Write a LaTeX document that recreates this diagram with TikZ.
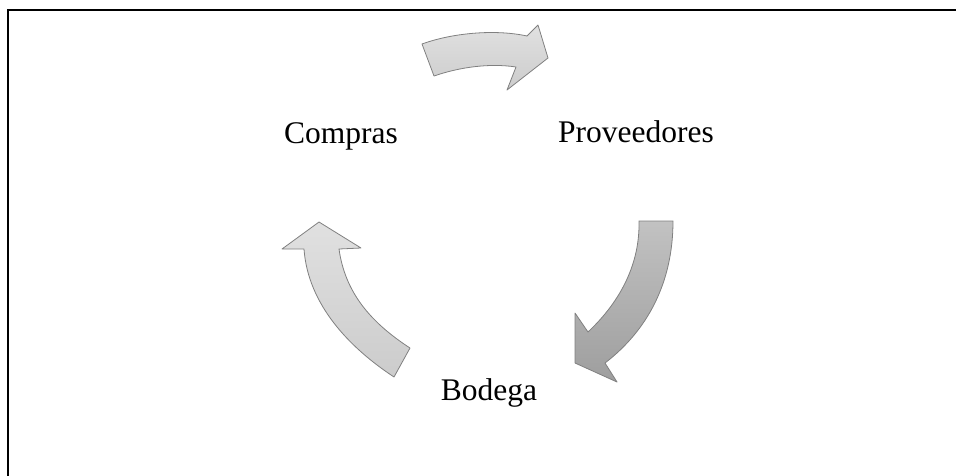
\documentclass[tikz,border=0pt]{standalone}
\usepackage{fontspec}
\setmainfont{Liberation Serif}
\begin{document}
\begin{tikzpicture}[x=1pt,y=-1pt,
  label/.style={anchor=base,inner sep=0pt,font=\fontsize{31.5}{36}\selectfont},
  cyclearrow/.style={draw=black!50,line width=0.8pt,line join=round},
  lightarrow/.style={cyclearrow,top color=black!12,bottom color=black!20},
  darkarrow/.style={cyclearrow,top color=black!24,bottom color=black!38}]
\useasboundingbox (0,0) rectangle (956,475);

% frame, running off the right and bottom edges
\begin{scope}
  \clip (0,0) rectangle (956,475);
  \draw[line width=2pt] (7.5,490) -- (7.5,10) -- (970,10);
\end{scope}

% stage labels
\node[label] (compras) at (341,143) {Compras};
\node[label] (prov) at (636,142) {Proveedores};
\node[label] (bodega) at (489,400) {Bodega};

% Compras -> Proveedores
\draw[lightarrow] (422,44) .. controls (452,33) and (495,29) .. (527,36)
  -- (538,25) -- (548,58) -- (507,90) -- (516,67)
  .. controls (490,63) and (460,67) .. (434,76) -- cycle;

% Proveedores -> Bodega
\draw[darkarrow] (639,221) .. controls (640,262) and (622,300) .. (588,332)
  -- (575,313) -- (575,363) -- (617,382) -- (605,363)
  .. controls (648,330) and (673,282) .. (673,221) -- cycle;

% Bodega -> Compras
\draw[lightarrow] (319,222) -- (361,248) -- (339,249)
  .. controls (345,292) and (370,322) .. (410,348)
  -- (394,377) .. controls (350,348) and (308,305) .. (304,249)
  -- (282,249) -- cycle;
\end{tikzpicture}
\end{document}
